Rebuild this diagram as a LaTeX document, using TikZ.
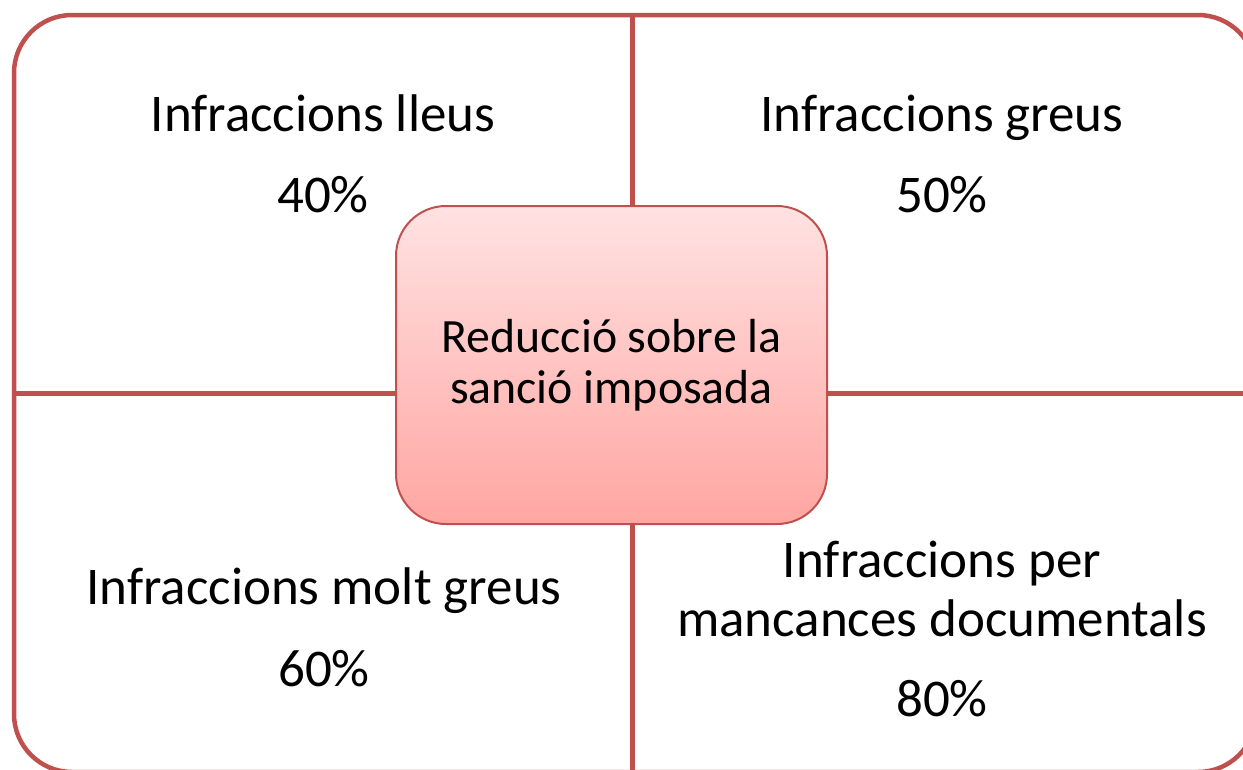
\documentclass[tikz,border=0pt]{standalone}
\usepackage{fontspec}
\setmainfont{Carlito}
\definecolor{rim}{HTML}{C0504D}
\definecolor{coretop}{HTML}{FFE2E2}
\definecolor{corebot}{HTML}{FFA6A2}

\begin{document}
\begin{tikzpicture}[x=1pt,y=-1pt]
  \tikzset{cell/.style = {align=center,anchor=base,inner sep=0pt,font=\fontsize{53}{59}\selectfont}}
  \tikzset{rule/.style = {draw=rim,line width=5pt}}
  \tikzset{core/.style = {draw=rim,line width=2pt,rounded corners=50pt,top color=coretop,bottom color=corebot,
      minimum width=431pt,minimum height=318pt,align=center,font=\fontsize{47.8}{51}\selectfont}}

  \useasboundingbox (0,0) rectangle (1243,769);
  \clip (0,0) rectangle (1243,769);

  % dividing lines
  \coordinate (t) at (632,15);
  \coordinate (b) at (632,772);
  \coordinate (l) at (14,393);
  \coordinate (r) at (1256,393);
  \draw[rule] (t) -- (b);
  \draw[rule] (l) -- (r);

  \node[draw=rim,line width=4.5pt,rounded corners=58pt,minimum width=1242pt,minimum height=757pt] (frame) at (635,393.5) {};

  \node[core] (reduccio) at (611.5,365) {Reducció sobre la\\sanció imposada};

  \foreach \name/\x/\y/\py/\txt/\pct in {lleus/323/131/212/Infraccions lleus/40,
      greus/942/131/212/Infraccions greus/50,
      molt/324/604/686/Infraccions molt greus/60,
      docs/942/636/716/{Infraccions per\\mancances documentals}/80}
  {
    \node[cell] (\name) at (\x,\y) {\txt};
    \node[cell] (\name-pct) at (\x,\py) {\pct\%};
  }
\end{tikzpicture}
\end{document}
